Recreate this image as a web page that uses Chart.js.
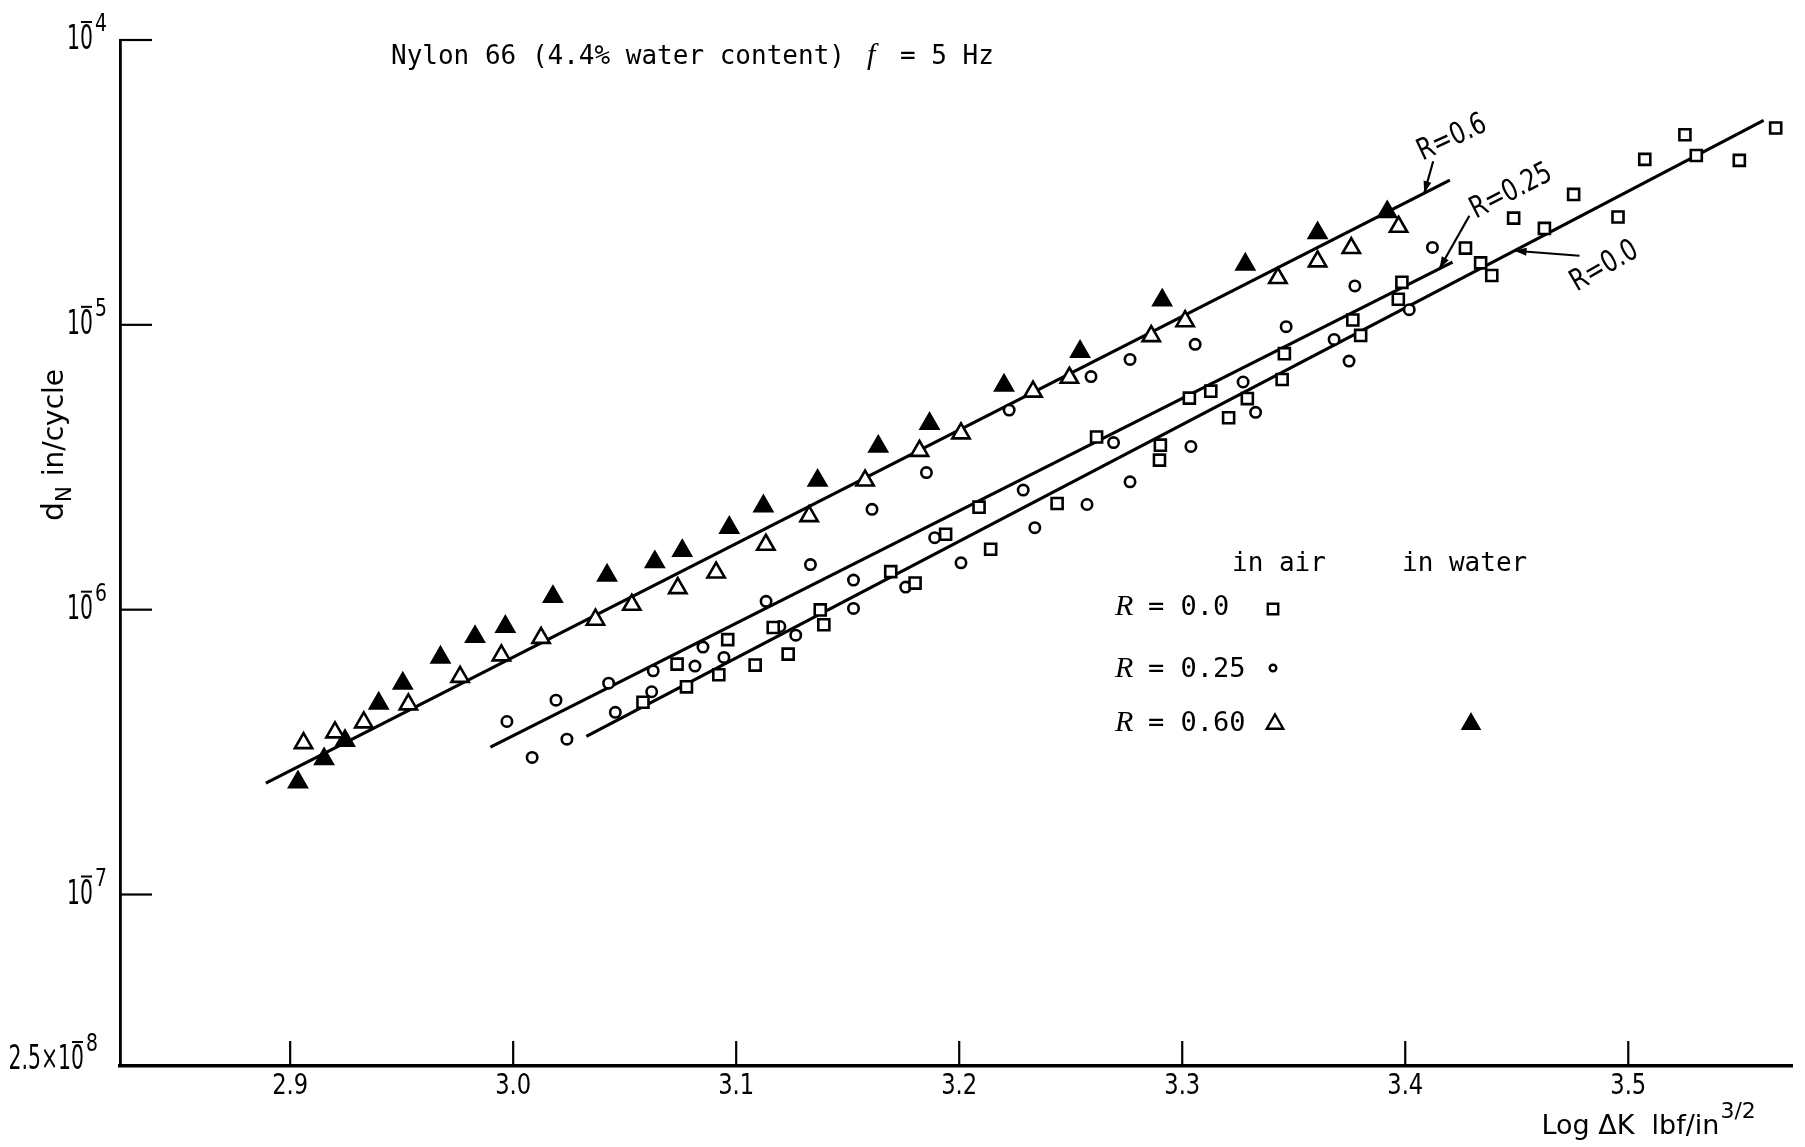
<!DOCTYPE html>
<html>
<head>
<meta charset="utf-8">
<title>Nylon 66 crack growth rate</title>
<script src="https://cdn.jsdelivr.net/npm/chart.js@4.4.1/dist/chart.umd.min.js"></script>
<style>
  html, body { margin: 0; padding: 0; background: #fff; }
  #wrap { width: 1805px; height: 1147px; position: relative; }
</style>
</head>
<body>
<div id="wrap"><canvas id="growth-chart"></canvas></div>
<script>
// Axis ticks
const xTicks = [2.9, 3.0, 3.1, 3.2, 3.3, 3.4, 3.5];
const yTicks = [2.5e-8, 1e-7, 1e-6, 1e-5, 1e-4];

// R = 0.0, in air (squares)
const r00AirX = [3.0582, 3.0735, 3.0777, 3.0922, 3.0962, 3.1085, 3.1166, 3.1233, 3.1377, 3.1393,
                 3.1693, 3.1802, 3.1939, 3.2089, 3.2141, 3.2439, 3.2616, 3.2898, 3.2902, 3.3032,
                 3.3128, 3.3208, 3.3292, 3.3448, 3.3458, 3.3765, 3.3800, 3.3969, 3.3985, 3.4270,
                 3.4338, 3.4388, 3.4486, 3.4624, 3.4755, 3.4954, 3.5074, 3.5254, 3.5305, 3.5498, 3.5661];
const r00AirY = [4.73e-7, 6.44e-7, 5.36e-7, 5.91e-7, 7.85e-7, 6.39e-7, 8.66e-7, 6.98e-7, 9.98e-7, 8.85e-7,
                 1.36e-6, 1.24e-6, 1.84e-6, 2.29e-6, 1.63e-6, 2.36e-6, 4.04e-6, 3.35e-6, 3.78e-6, 5.53e-6,
                 5.85e-6, 4.72e-6, 5.51e-6, 6.43e-6, 7.92e-6, 1.04e-5, 9.18e-6, 1.23e-5, 1.41e-5, 1.86e-5,
                 1.65e-5, 1.49e-5, 2.37e-5, 2.18e-5, 2.87e-5, 2.39e-5, 3.81e-5, 4.65e-5, 3.93e-5, 3.78e-5, 4.91e-5];

// R = 0.25, in air (circles)
const r25AirX = [2.9972, 3.0085, 3.0192, 3.0241, 3.0428, 3.0458, 3.0628, 3.0621, 3.0815, 3.0851,
                 3.0945, 3.1134, 3.1196, 3.1267, 3.1333, 3.1526, 3.1526, 3.1609, 3.1760, 3.1853,
                 3.1890, 3.2008, 3.2224, 3.2287, 3.2339, 3.2573, 3.2591, 3.2692, 3.2766, 3.2766,
                 3.3039, 3.3058, 3.3273, 3.3329, 3.3466, 3.3681, 3.3748, 3.3774, 3.4018, 3.4122];
const r25AirY = [4.05e-7, 3.03e-7, 4.81e-7, 3.51e-7, 5.52e-7, 4.36e-7, 6.10e-7, 5.15e-7, 6.34e-7, 7.39e-7,
                 6.80e-7, 1.07e-6, 8.73e-7, 8.14e-7, 1.44e-6, 1.27e-6, 1.01e-6, 2.25e-6, 1.20e-6, 3.03e-6,
                 1.79e-6, 1.46e-6, 5.02e-6, 2.63e-6, 1.94e-6, 2.34e-6, 6.58e-6, 3.86e-6, 7.56e-6, 2.81e-6,
                 3.74e-6, 8.54e-6, 6.30e-6, 4.93e-6, 9.85e-6, 8.89e-6, 7.46e-6, 1.37e-5, 1.13e-5, 1.87e-5];

// R = 0.60, in air (open triangles)
const r60AirX = [2.9060, 2.9201, 2.9330, 2.9530, 2.9762, 2.9947, 3.0125, 3.0369, 3.0532, 3.0738,
                 3.0910, 3.1133, 3.1327, 3.1578, 3.1822, 3.2008, 3.2331, 3.2494, 3.2861, 3.3013,
                 3.3429, 3.3607, 3.3758, 3.3970];
const r60AirY = [3.40e-7, 3.71e-7, 4.02e-7, 4.65e-7, 5.81e-7, 6.91e-7, 7.96e-7, 9.22e-7, 1.04e-6, 1.19e-6,
                 1.35e-6, 1.69e-6, 2.13e-6, 2.84e-6, 3.61e-6, 4.16e-6, 5.83e-6, 6.52e-6, 9.13e-6, 1.03e-5,
                 1.46e-5, 1.67e-5, 1.86e-5, 2.21e-5];

// R = 0.60, in water (filled triangles)
const r60WaterX = [2.9035, 2.9152, 2.9246, 2.9397, 2.9505, 2.9674, 2.9829, 2.9965, 3.0178, 3.0421,
                   3.0635, 3.0758, 3.0969, 3.1122, 3.1365, 3.1637, 3.1867, 3.2201, 3.2542, 3.2910,
                   3.3283, 3.3607, 3.3919];
const r60WaterY = [2.48e-7, 2.99e-7, 3.47e-7, 4.69e-7, 5.51e-7, 6.80e-7, 8.03e-7, 8.72e-7, 1.11e-6, 1.32e-6,
                   1.47e-6, 1.61e-6, 1.94e-6, 2.31e-6, 2.84e-6, 3.74e-6, 4.50e-6, 6.13e-6, 8.05e-6, 1.22e-5,
                   1.63e-5, 2.10e-5, 2.49e-5];

// Fitted lines, end points
const fit00X = [3.0328, 3.5607];
const fit00Y = [3.59e-7, 5.22e-5];
const fit25X = [2.9898, 3.4212];
const fit25Y = [3.29e-7, 1.66e-5];
const fit60X = [2.8891, 3.4200];
const fit60Y = [2.46e-7, 3.22e-5];

const zip = (xs, ys) => xs.map((v, i) => ({ x: v, y: ys[i] }));

// y on a fitted line (straight on log axis)
function onFit(fx, fy, at) {
  const t = (at - fx[0]) / (fx[1] - fx[0]);
  const l0 = Math.log10(fy[0]), l1 = Math.log10(fy[1]);
  return Math.pow(10, l0 + t * (l1 - l0));
}

function squeezed(ctx, str, x, y, font, align, sx) {
  ctx.save();
  ctx.font = font;
  ctx.textAlign = align || 'left';
  ctx.translate(x, y);
  ctx.scale(sx || 1, 1);
  ctx.fillText(str, 0, 0);
  ctx.restore();
}

function textWidth(ctx, str, font, sx) {
  ctx.save();
  ctx.font = font;
  const w = ctx.measureText(str).width * (sx || 1);
  ctx.restore();
  return w;
}

function segment(ctx, x1, y1, x2, y2) {
  ctx.beginPath();
  ctx.moveTo(x1, y1);
  ctx.lineTo(x2, y2);
  ctx.stroke();
}

function marker(ctx, style, x, y, r, filled) {
  ctx.save();
  ctx.lineWidth = 2.4;
  ctx.strokeStyle = '#000';
  ctx.fillStyle = filled ? '#000' : '#fff';
  ctx.beginPath();
  if (style === 'rect') {
    ctx.rect(x - r, y - r, 2 * r, 2 * r);
  } else if (style === 'circle') {
    ctx.arc(x, y, r, 0, Math.PI * 2);
  } else {
    ctx.moveTo(x, y - r);
    ctx.lineTo(x + 0.866 * r, y + 0.5 * r);
    ctx.lineTo(x - 0.866 * r, y + 0.5 * r);
    ctx.closePath();
  }
  ctx.fill();
  ctx.stroke();
  ctx.restore();
}

// Labels pointing at the fitted lines
const tags = [
  { text: 'R=0.6',  fx: fit60X, fy: fit60Y, at: 3.4085, lead: [9, -32],  pos: [28, -55], angle: -25 },
  { text: 'R=0.25', fx: fit25X, fy: fit25Y, at: 3.4153, lead: [30, -53], pos: [72, -77], angle: -27 },
  { text: 'R=0.0',  fx: fit00X, fy: fit00Y, at: 3.4490, lead: [65, 5],   pos: [90, 16],  angle: -30 }
];

const SANS = '"DejaVu Sans"';
const MONO = '"DejaVu Sans Mono"';
const SERIF_IT = 'italic 30px "Liberation Serif"';

const paperAxes = {
  id: 'paperAxes',
  afterDraw(chart) {
    const { ctx, chartArea: a, scales: { x, y } } = chart;
    ctx.save();
    ctx.fillStyle = '#000';
    ctx.strokeStyle = '#000';
    ctx.textBaseline = 'alphabetic';

    // y ticks and powers of ten
    yTicks.forEach((v, i) => {
      const py = y.getPixelForValue(v);
      ctx.lineWidth = 2.2;
      if (i > 0) segment(ctx, a.left, py, a.left + 32, py);
      const e = Math.ceil(-Math.log10(v) - 1e-9);
      const mant = Math.round(v * Math.pow(10, e) * 10) / 10;
      const prefix = mant === 1 ? '' : mant + '\u00d7';
      const right = i === 0 ? 84 : 93;
      const base = i === 0 ? py + 3 : py + 9;
      squeezed(ctx, prefix + '10', right, base, '34px ' + SANS, 'right', 0.6);
      // bar over the zero: negative exponent
      ctx.lineWidth = 2;
      segment(ctx, right - 12, base - 27, right - 1, base - 27);
      squeezed(ctx, String(e), right + 2, base - 18, '25px ' + SANS, 'left', 0.75);
    });

    // x ticks
    xTicks.forEach(v => {
      const px = x.getPixelForValue(v);
      ctx.lineWidth = 2.2;
      segment(ctx, px, a.bottom, px, a.bottom - 25);
      squeezed(ctx, v.toFixed(1), px, a.bottom + 28, '29px ' + SANS, 'center', 0.78);
    });

    // x title
    const xt = 'Log \u0394K  lbf/in';
    const xf = '27px ' + SANS;
    const xw = textWidth(ctx, xt, xf, 1);
    squeezed(ctx, xt, a.right - 251, a.bottom + 68, xf, 'left', 1);
    squeezed(ctx, '3/2', a.right - 251 + xw + 1, a.bottom + 52, '22px ' + SANS, 'left', 1);

    // y title
    ctx.save();
    ctx.translate(63, 521);
    ctx.rotate(-Math.PI / 2);
    const dw = textWidth(ctx, 'd', '30px ' + SANS, 1);
    squeezed(ctx, 'd', 0, 0, '30px ' + SANS, 'left', 1);
    const nw = textWidth(ctx, 'N', '21px ' + SANS, 1);
    squeezed(ctx, 'N', dw, 8, '21px ' + SANS, 'left', 1);
    squeezed(ctx, 'in/cycle', dw + nw + 10, 0, '28px ' + SANS, 'left', 1);
    ctx.restore();

    // heading
    squeezed(ctx, 'Nylon 66 (4.4% water content)', 391, 64, '26px ' + MONO, 'left', 1);
    squeezed(ctx, 'f', 867, 64, SERIF_IT, 'left', 1);
    squeezed(ctx, '= 5 Hz', 900, 64, '26px ' + MONO, 'left', 1);

    // key
    squeezed(ctx, 'in air', 1232, 571, '26px ' + MONO, 'left', 1);
    squeezed(ctx, 'in water', 1402, 571, '26px ' + MONO, 'left', 1);
    const rows = [
      { val: '= 0.0', base: 615 },
      { val: '= 0.25', base: 677 },
      { val: '= 0.60', base: 731 }
    ];
    rows.forEach(r => {
      squeezed(ctx, 'R', 1115, r.base, SERIF_IT, 'left', 1);
      squeezed(ctx, r.val, 1148, r.base, '27px ' + MONO, 'left', 1);
    });
    marker(ctx, 'rect', 1273, 609, 5.2, false);
    marker(ctx, 'circle', 1273, 668, 3.3, false);
    marker(ctx, 'triangle', 1275, 724, 9.5, false);
    marker(ctx, 'triangle', 1471, 724, 9.5, true);

    // line labels with leaders
    tags.forEach(t => {
      const px = x.getPixelForValue(t.at);
      const py = y.getPixelForValue(onFit(t.fx, t.fy, t.at));
      const sx = px + t.lead[0], sy = py + t.lead[1];
      ctx.lineWidth = 2.2;
      segment(ctx, sx, sy, px, py);
      const ang = Math.atan2(py - sy, px - sx);
      ctx.beginPath();
      ctx.moveTo(px, py);
      ctx.lineTo(px - 12 * Math.cos(ang) + 4 * Math.sin(ang), py - 12 * Math.sin(ang) - 4 * Math.cos(ang));
      ctx.lineTo(px - 12 * Math.cos(ang) - 4 * Math.sin(ang), py - 12 * Math.sin(ang) + 4 * Math.cos(ang));
      ctx.closePath();
      ctx.fill();
      ctx.save();
      ctx.translate(px + t.pos[0], py + t.pos[1]);
      ctx.rotate(t.angle * Math.PI / 180);
      ctx.textBaseline = 'middle';
      squeezed(ctx, t.text, 0, 0, '30px ' + SANS, 'center', 0.78);
      ctx.restore();
    });

    ctx.restore();
  }
};

const pointSet = (label, xs, ys, style, radius, fill) => ({
  label: label,
  data: zip(xs, ys),
  pointStyle: style,
  pointRadius: radius,
  pointBorderWidth: 2.6,
  borderColor: '#000',
  backgroundColor: fill,
  showLine: false
});

const fitSet = (label, xs, ys) => ({
  label: label,
  data: zip(xs, ys),
  showLine: true,
  pointRadius: 0,
  borderColor: '#000',
  borderWidth: 3.2,
  fill: false
});

const growthChart = new Chart(document.getElementById('growth-chart'), {
  type: 'scatter',
  data: {
    datasets: [
      pointSet('R = 0.0 in air', r00AirX, r00AirY, 'rect', 7.8, '#fff'),
      pointSet('R = 0.25 in air', r25AirX, r25AirY, 'circle', 5.2, '#fff'),
      pointSet('R = 0.60 in air', r60AirX, r60AirY, 'triangle', 10, '#fff'),
      pointSet('R = 0.60 in water', r60WaterX, r60WaterY, 'triangle', 10, '#000'),
      fitSet('R=0.0', fit00X, fit00Y),
      fitSet('R=0.25', fit25X, fit25Y),
      fitSet('R=0.6', fit60X, fit60Y)
    ]
  },
  options: {
    responsive: true,
    maintainAspectRatio: false,
    animation: false,
    layout: { padding: { top: 40, right: 0, bottom: 0, left: 0 } },
    plugins: {
      legend: { display: false },
      tooltip: { enabled: false }
    },
    scales: {
      x: {
        type: 'linear',
        min: 2.8237,
        max: 3.5736,
        afterBuildTicks: s => { s.ticks = xTicks.map(v => ({ value: v })); },
        afterFit: s => { s.height = 81; },
        ticks: { display: false },
        grid: { display: false },
        border: { display: true, color: '#000', width: 3.5 }
      },
      y: {
        type: 'logarithmic',
        min: 2.5e-8,
        max: 1e-4,
        afterBuildTicks: s => { s.ticks = yTicks.map(v => ({ value: v })); },
        afterFit: s => { s.width = 120; },
        ticks: { display: false },
        grid: { display: false },
        border: { display: true, color: '#000', width: 2.8 }
      }
    }
  },
  plugins: [paperAxes]
});
</script>
</body>
</html>
